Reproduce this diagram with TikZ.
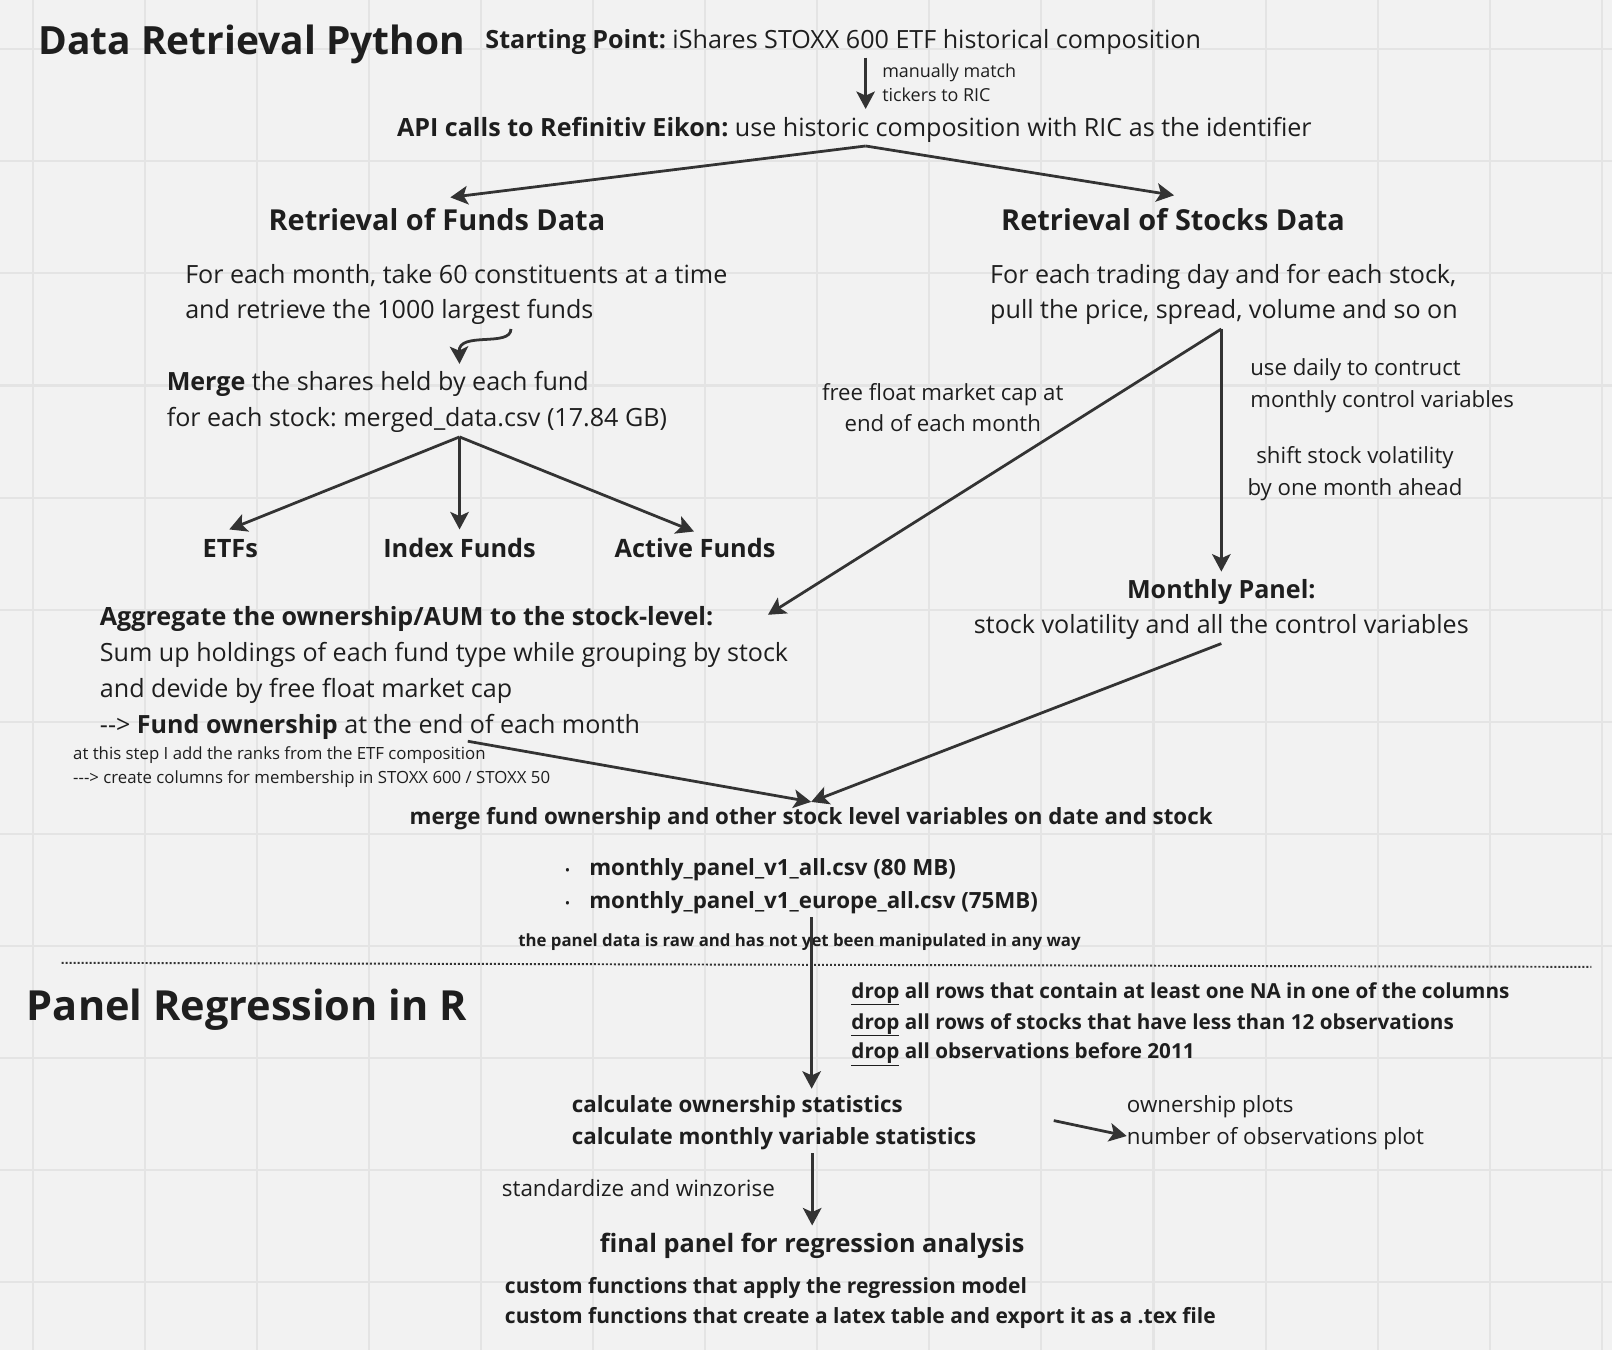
\documentclass[tikz,border=0pt]{standalone}
\usepackage{fontspec}
\setmainfont{Open Sans}
\usetikzlibrary{arrows.meta}
\definecolor{bg}{HTML}{F2F2F2}
\definecolor{gridc}{HTML}{E4E4E4}
\definecolor{ink}{HTML}{1E1E1E}
\definecolor{arr}{HTML}{333333}
\newcommand{\fs}[1]{\fontsize{#1}{#1}\selectfont}
\newcommand{\hy}{-\kern0pt}
\frenchspacing
\tikzset{
  lbl/.style={inner sep=0pt, text=ink, anchor=base west},
  clbl/.style={inner sep=0pt, text=ink, anchor=base},
  conn/.style={draw=arr, line width=2.7bp, -{Stealth[length=17bp,width=18bp,inset=4bp]}},
  gridline/.style={draw=gridc, line width=2bp},
}
\begin{document}
\begin{tikzpicture}[x=1bp,y=-1bp]
\fill[bg] (0,0) rectangle (1568,1313);
\useasboundingbox (0,0) rectangle (1568,1313);
\foreach \x in {32,141,...,1568} \draw[gridline] (\x,0) -- (\x,1313);
\foreach \y in {48,157,...,1313} \draw[gridline] (0,\y) -- (1568,\y);

% ---------- top part
\node[lbl,font=\fs{38}\bfseries] (t1) at (37,53) {Data Retrieval Python};
\node[lbl,font=\fs{24.5}] (start) at (472,47) {\textbf{Starting Point:} iShares STOXX 600 ETF historical composition};
\coordinate (m1) at (842,56);
\coordinate (m2) at (842,106);
\draw[conn] (m1) -- (m2);
\node[lbl,font=\fs{17.5}] (man1) at (858,75) {manually match};
\node[lbl,font=\fs{17.5}] (man2) at (858,99) {tickers to RIC};
\node[lbl,font=\fs{24.5}] (api) at (386,133) {\textbf{API calls to Refinitiv Eikon:} use historic composition with RIC as the identifier};
\coordinate (apiS) at (842,142);
\coordinate (fundsT) at (438,192);
\coordinate (stocksT) at (1142,190);
\draw[conn] (apiS) -- (fundsT);
\draw[conn] (apiS) -- (stocksT);

\node[clbl,font=\fs{28.2}\bfseries] (funds) at (425,224) {Retrieval of Funds Data};
\node[clbl,font=\fs{28.2}\bfseries] (stocks) at (1141,224) {Retrieval of Stocks Data};
\node[lbl,font=\fs{24.5}] (fd1) at (180,276) {For each month, take 60 constituents at a time};
\node[lbl,font=\fs{24.5}] (fd2) at (180,310) {and retrieve the 1000 largest funds};
\node[lbl,font=\fs{24.5}] (sd1) at (963,276) {For each trading day and for each stock,};
\node[lbl,font=\fs{24.5}] (sd2) at (963,310) {pull the price, spread, volume and so on};

\coordinate (cv1) at (497,320);
\coordinate (cv2) at (447,354);
\draw[conn] (cv1) .. controls (497,338) and (446,322) .. (cv2);

\node[lbl,font=\fs{24.5}] (mg1) at (162,380) {\textbf{Merge} the shares held by each fund};
\node[lbl,font=\fs{24.5}] (mg2) at (162,415) {for each stock: merged\_data.csv (17.84 GB)};
\coordinate (mgS) at (447,425);
\coordinate (etfT) at (223,515);
\coordinate (idxT) at (447,515);
\coordinate (actT) at (675,517);
\draw[conn] (mgS) -- (etfT);
\draw[conn] (mgS) -- (idxT);
\draw[conn] (mgS) -- (actT);
\node[clbl,font=\fs{24.7}\bfseries] (etf) at (224,542) {ETFs};
\node[clbl,font=\fs{24.7}\bfseries] (idx) at (447,542) {Index Funds};
\node[clbl,font=\fs{24.7}\bfseries] (act) at (676,542) {Active Funds};

\node[lbl,font=\fs{24.5}\bfseries] (ag1) at (97,608) {Aggregate the ownership/AUM to the stock-level:};
\node[lbl,font=\fs{24.5}] (ag2) at (97,643) {Sum up holdings of each fund type while grouping by stock};
\node[lbl,font=\fs{24.5}] (ag3) at (97,678) {and devide by free float market cap};
\node[lbl,font=\fs{24.5}] (ag4) at (97,713) {\hy\hy> \textbf{Fund ownership} at the end of each month};
\node[lbl,font=\fs{16.4}] (note1) at (71,739) {at this step I add the ranks from the ETF composition};
\node[lbl,font=\fs{16.4}] (note2) at (71,762) {\hy\hy\hy> create columns for membership in STOXX 600 / STOXX 50};

% ---------- stocks side
\coordinate (sdS) at (1188,320);
\coordinate (agT) at (747,598);
\coordinate (mpT) at (1188,556);
\draw[conn] (sdS) -- (agT);
\draw[conn] (sdS) -- (mpT);
\node[clbl,font=\fs{21.7}] (ff1) at (917,390) {free float market cap at};
\node[clbl,font=\fs{21.7}] (ff2) at (917,420) {end of each month};
\node[lbl,font=\fs{21.7}] (ud1) at (1216,365) {use daily to contruct};
\node[lbl,font=\fs{21.7}] (ud2) at (1216,396) {monthly control variables};
\node[clbl,font=\fs{21.7}] (sv1) at (1318,451) {shift stock volatility};
\node[clbl,font=\fs{21.7}] (sv2) at (1318,482) {by one month ahead};
\node[clbl,font=\fs{24.5}\bfseries] (mp1) at (1188,582) {Monthly Panel:};
\node[clbl,font=\fs{24.5}] (mp2) at (1188,616) {stock volatility and all the control variables};

% ---------- merge
\coordinate (foS) at (455,721);
\coordinate (mpS) at (1188,626);
\coordinate (mergeT) at (789,780);
\draw[conn] (foS) -- (mergeT);
\draw[conn] (mpS) -- (mergeT);
\node[clbl,font=\fs{21.8}\bfseries] (merge) at (789,802) {merge fund ownership and other stock level variables on date and stock};
\node[clbl,font=\fs{14}] (bu1) at (552,852) {\textbullet};
\node[clbl,font=\fs{14}] (bu2) at (552,884) {\textbullet};
\node[lbl,font=\fs{21.8}\bfseries] (b1) at (573,852) {monthly\_panel\_v1\_all.csv (80 MB)};
\node[lbl,font=\fs{21.8}\bfseries] (b2) at (573,884) {monthly\_panel\_v1\_europe\_all.csv (75MB)};
\node[lbl,font=\fs{16.4}\bfseries] (raw) at (504,921) {the panel data is raw and has not yet been manipulated in any way};

\draw[arr, line width=1.9bp, dotted] (60,936.5) -- (1548,940.5);

% ---------- R part
\node[lbl,font=\fs{40.5}\bfseries] (t2) at (26,993) {Panel Regression in R};
\coordinate (rawS) at (789.5,892);
\coordinate (calcT) at (789.5,1059);
\draw[conn] (rawS) -- (calcT);
\node[lbl,font=\fs{20.2}\bfseries] (dr1) at (828,971) {\underline{drop} all rows that contain at least one NA in one of the columns};
\node[lbl,font=\fs{20.2}\bfseries] (dr2) at (828,1001) {\underline{drop} all rows of stocks that have less than 12 observations};
\node[lbl,font=\fs{20.2}\bfseries] (dr3) at (828,1030) {\underline{drop} all observations before 2011};

\node[lbl,font=\fs{21.8}\bfseries] (ca1) at (556,1082) {calculate ownership statistics};
\node[lbl,font=\fs{21.8}\bfseries] (ca2) at (556,1113) {calculate monthly variable statistics};
\node[lbl,font=\fs{21.8}] (pl1) at (1096,1082) {ownership plots};
\node[lbl,font=\fs{21.8}] (pl2) at (1096,1113) {number of observations plot};
\coordinate (caS) at (1025,1090);
\coordinate (plT) at (1096,1105);
\draw[conn] (caS) -- (plT);

\node[lbl,font=\fs{21.9}] (st) at (488,1164) {standardize and winzorise};
\coordinate (ca2S) at (790,1122);
\coordinate (finT) at (790,1192);
\draw[conn] (ca2S) -- (finT);
\node[clbl,font=\fs{24.7}\bfseries] (fin) at (790,1218) {final panel for regression analysis};
\node[lbl,font=\fs{20.5}\bfseries] (cu1) at (491,1258) {custom functions that apply the regression model};
\node[lbl,font=\fs{20.5}\bfseries] (cu2) at (491,1287) {custom functions that create a latex table and export it as a .tex file};
\end{tikzpicture}
\end{document}
